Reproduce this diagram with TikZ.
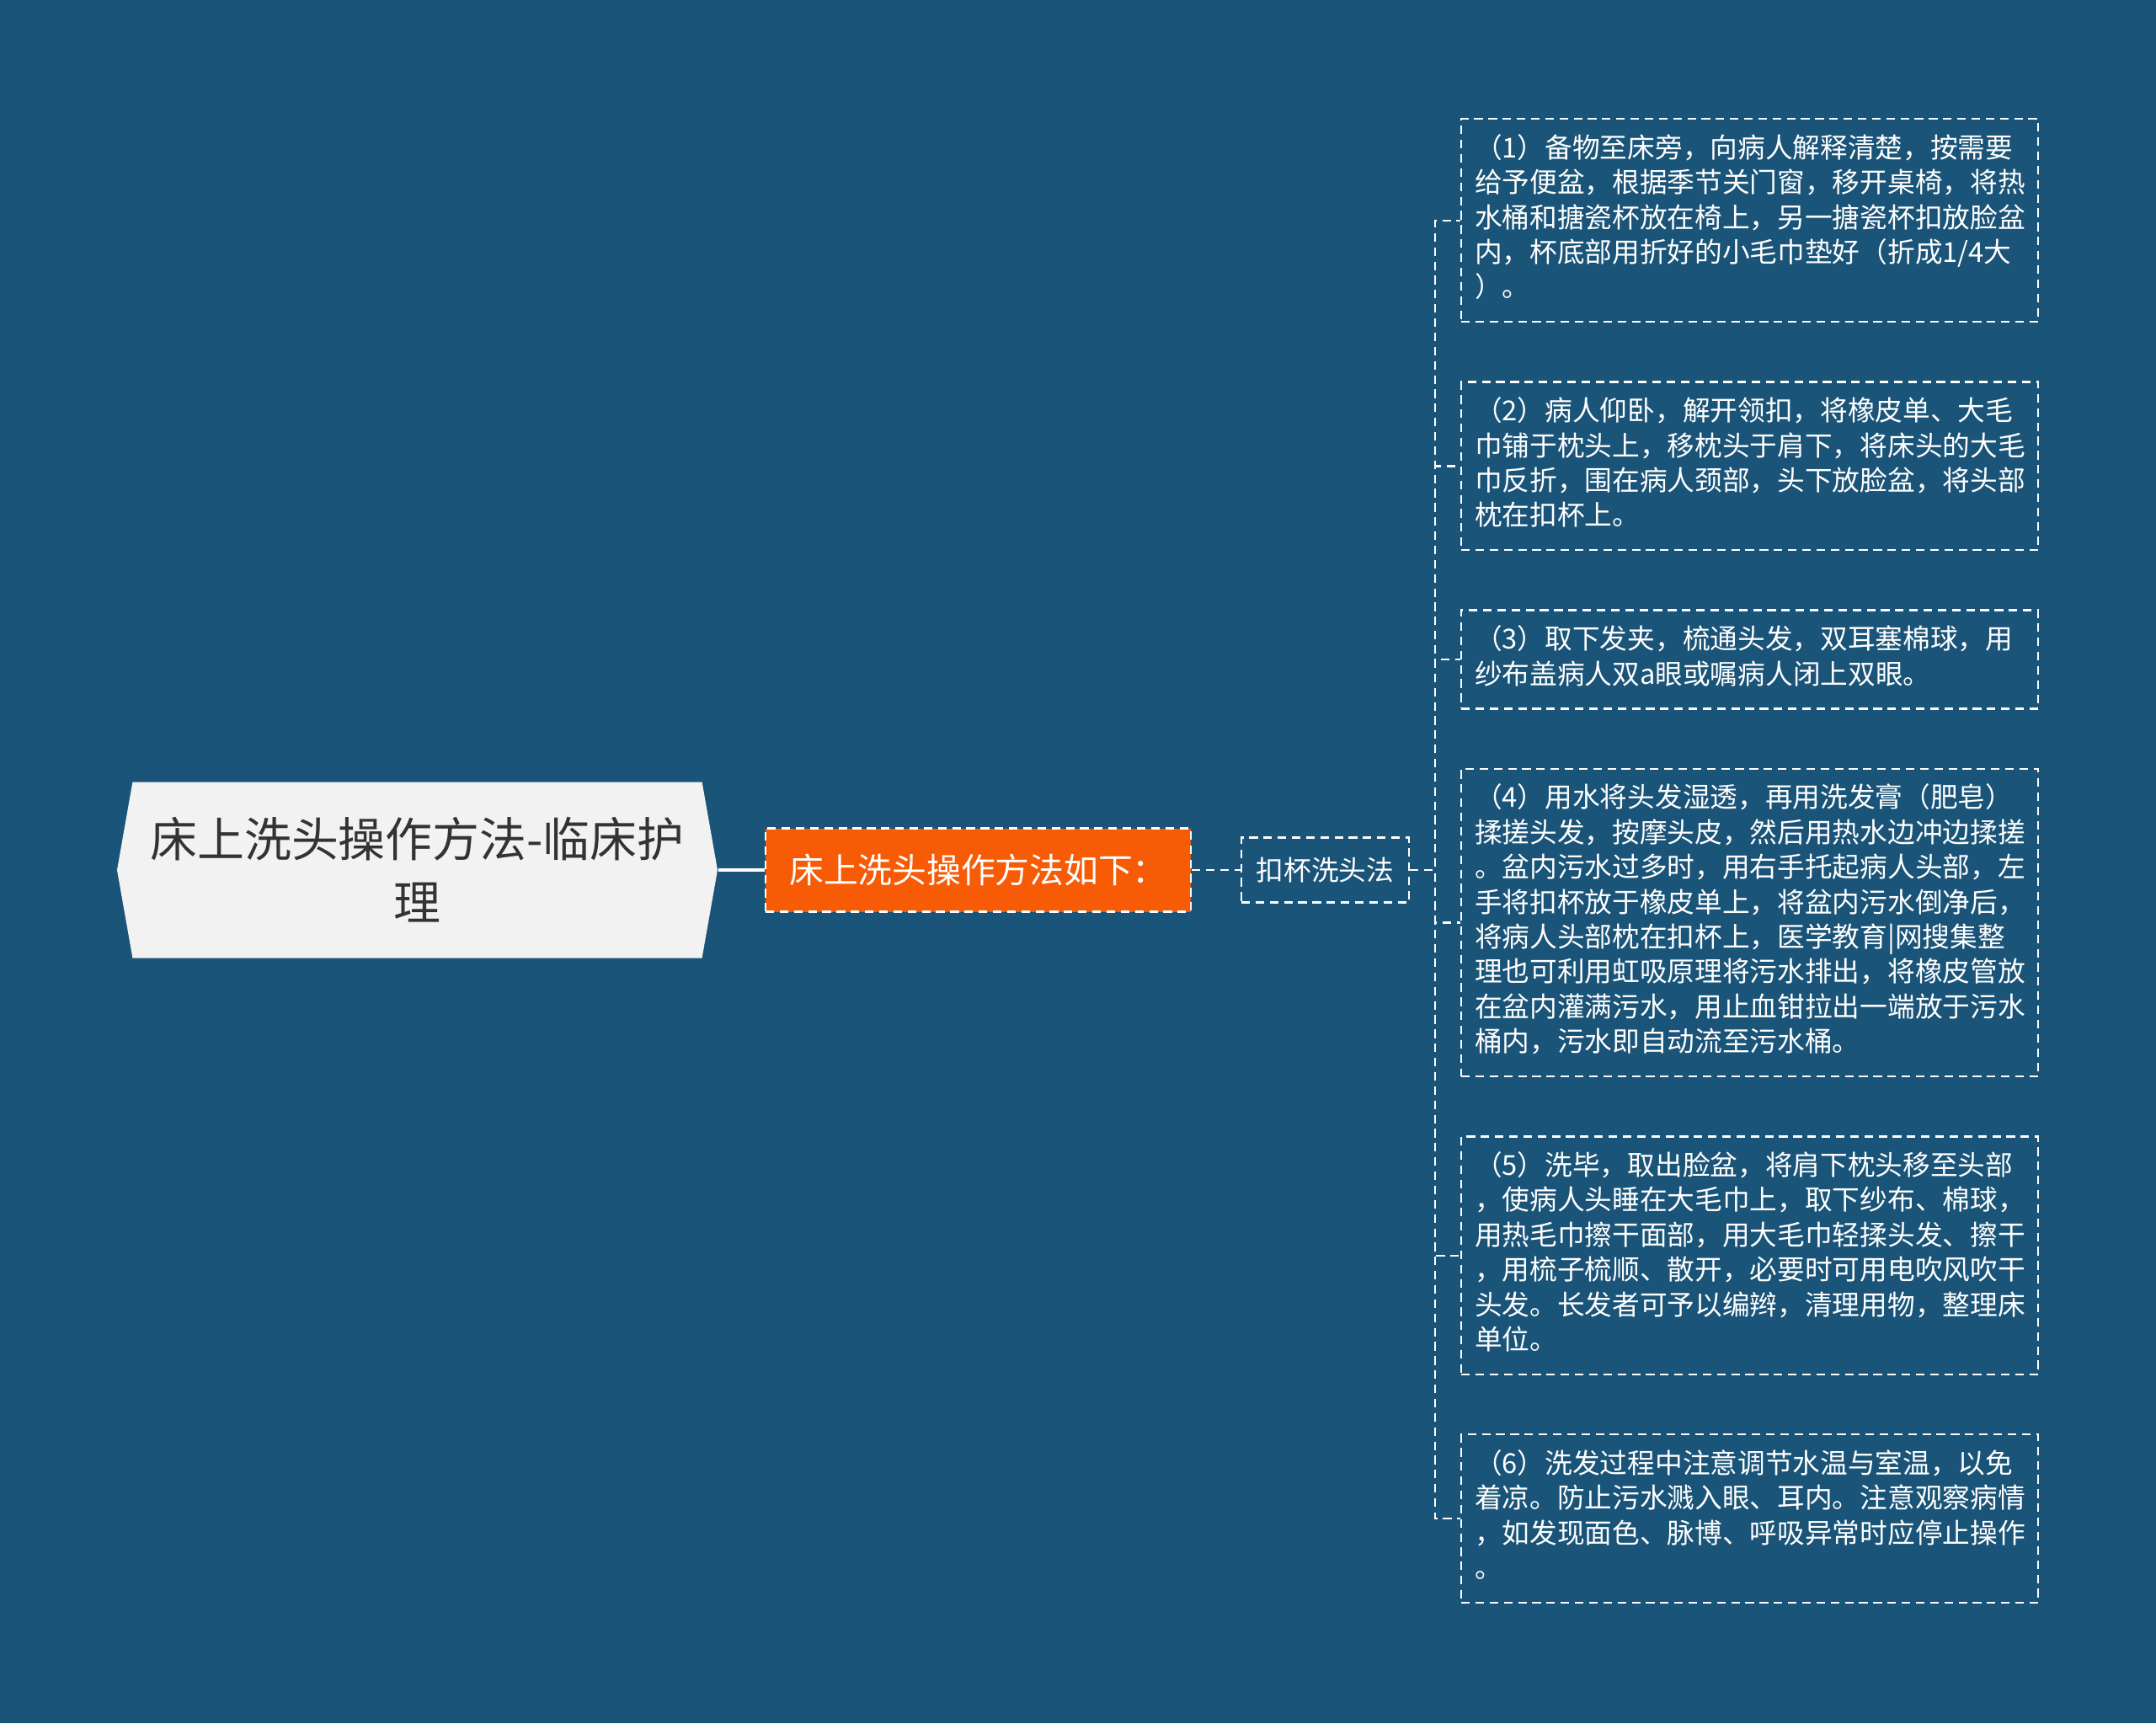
\documentclass[tikz,border=0pt]{standalone}
\usepackage{fontspec}
\setmainfont{Noto Sans CJK SC}
\usetikzlibrary{positioning,shapes.symbols}

\definecolor{bgblue}{RGB}{26,84,120}
\definecolor{rootgray}{RGB}{242,242,242}
\definecolor{topicorange}{RGB}{247,91,5}
\definecolor{textgray}{RGB}{51,51,51}

\tikzset{
  dashline/.style={white, line width=0.6pt, dash pattern=on 2.9pt off 1.9pt},
  rootnode/.style={signal, signal to=west and east, signal pointer angle=160,
    fill=rootgray, text=textgray, minimum width=7.13cm, minimum height=2.09cm,
    align=center, font=\fontsize{15.9}{21.3}\selectfont},
  topicnode/.style={draw, dashline, fill=topicorange, text=white,
    minimum width=5.05cm, minimum height=0.99cm, font=\fontsize{11.6}{14}\selectfont},
  methodnode/.style={draw, dashline, text=white,
    minimum width=1.99cm, minimum height=0.77cm, font=\fontsize{9.3}{11.8}\selectfont},
  stepbox/.style={draw, dashline, text=white, text width=6.53cm, align=left,
    inner xsep=0.16cm, inner ysep=0.17cm, font=\fontsize{9.3}{11.8}\selectfont,
    execute at begin node=\strut, execute at end node=\strut},
}

\begin{document}
\begin{tikzpicture}
\fill[bgblue] (0,0) rectangle (25.6,-20.46);
\useasboundingbox (0,0) rectangle (25.6,-20.46);

\node[rootnode] (root) at (4.955,-10.33) {床上洗头操作方法-临床护\\理};
\node[topicnode] (topic) at (11.615,-10.33) {床上洗头操作方法如下：};
\node[methodnode] (method) at (15.735,-10.33) {扣杯洗头法};

% steps
\node[stepbox, anchor=north west] (s1) at (17.34,-1.40) {（1）备物至床旁，向病人解释清楚，按需要\\给予便盆，根据季节关门窗，移开桌椅，将热\\水桶和搪瓷杯放在椅上，另一搪瓷杯扣放脸盆\\内，杯底部用折好的小毛巾垫好（折成1/4大\\）。};
\node[stepbox, below right=0.69cm and 0cm of s1.south west] (s2) {（2）病人仰卧，解开领扣，将橡皮单、大毛\\巾铺于枕头上，移枕头于肩下，将床头的大毛\\巾反折，围在病人颈部，头下放脸盆，将头部\\枕在扣杯上。};
\node[stepbox, below right=0.69cm and 0cm of s2.south west] (s3) {（3）取下发夹，梳通头发，双耳塞棉球，用\\纱布盖病人双a眼或嘱病人闭上双眼。};
\node[stepbox, below right=0.69cm and 0cm of s3.south west] (s4) {（4）用水将头发湿透，再用洗发膏（肥皂）\\揉搓头发，按摩头皮，然后用热水边冲边揉搓\\。盆内污水过多时，用右手托起病人头部，左\\手将扣杯放于橡皮单上，将盆内污水倒净后，\\将病人头部枕在扣杯上，医学教育|网搜集整\\理也可利用虹吸原理将污水排出，将橡皮管放\\在盆内灌满污水，用止血钳拉出一端放于污水\\桶内，污水即自动流至污水桶。};
\node[stepbox, below right=0.69cm and 0cm of s4.south west] (s5) {（5）洗毕，取出脸盆，将肩下枕头移至头部\\，使病人头睡在大毛巾上，取下纱布、棉球，\\用热毛巾擦干面部，用大毛巾轻揉头发、擦干\\，用梳子梳顺、散开，必要时可用电吹风吹干\\头发。长发者可予以编辫，清理用物，整理床\\单位。};
\node[stepbox, below right=0.69cm and 0cm of s5.south west] (s6) {（6）洗发过程中注意调节水温与室温，以免\\着凉。防止污水溅入眼、耳内。注意观察病情\\，如发现面色、脉博、呼吸异常时应停止操作\\。};

\draw[white, line width=1.1pt] (root.east) -- (topic.west);
\draw[dashline] (topic.east) -- (method.west);
\foreach \i in {1,...,6}
  \draw[dashline] (method.east) -- ++(0.3,0) |- (s\i.west);
\end{tikzpicture}
\end{document}
